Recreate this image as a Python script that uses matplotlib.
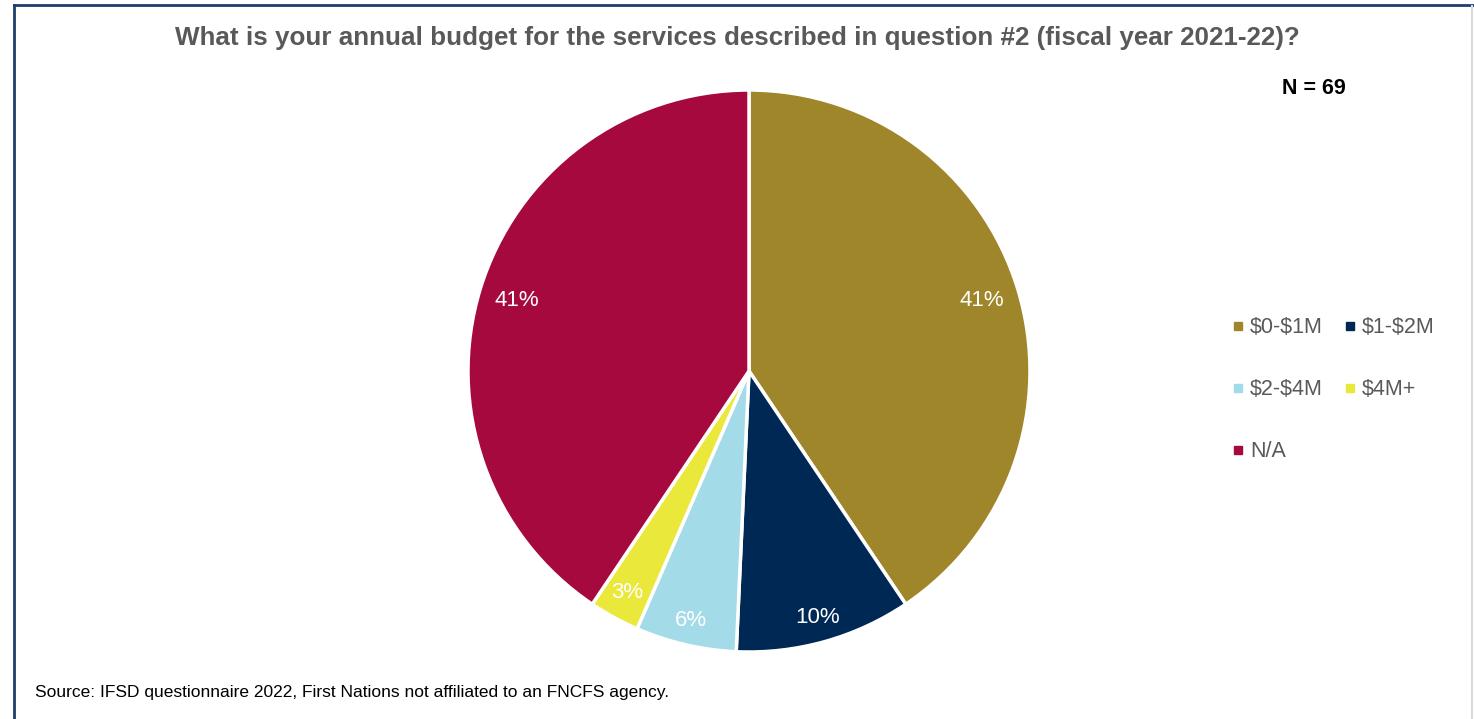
import matplotlib.pyplot as plt
from matplotlib.lines import Line2D
import numpy as np

plt.rcParams['font.family'] = ['Liberation Sans', 'DejaVu Sans']
plt.rcParams['text.parse_math'] = False

# responses per budget bracket (N = 69)
categories = ['$0-$1M', '$1-$2M', '$2-$4M', '$4M+', 'N/A']
counts = [28, 7, 4, 2, 28]
colors = ['#A0862A', '#002855', '#A4DBE8', '#EAE83A', '#A6093D']

title = 'What is your annual budget for the services described in question #2 (fiscal year 2021-22)?'
source = 'Source: IFSD questionnaire 2022, First Nations not affiliated to an FNCFS agency.'

fig = plt.figure(figsize=(14.74, 7.19), dpi=100)
fig.patch.set_facecolor('white')

# pie centred around x=749, y=371 px, radius ~281 px
ax = fig.add_axes([(749 - 290) / 1474, 1 - (371 + 290) / 719, 580 / 1474, 580 / 719])
wedges, texts, autotexts = ax.pie(
    counts, colors=colors, startangle=90, counterclock=False,
    radius=281 / 290, autopct=lambda p: f'{p:.0f}%', pctdistance=0.88,
    wedgeprops=dict(edgecolor='white', linewidth=2.5),
    textprops=dict(color='white', fontsize=16))
ax.set_xlim(-1, 1)
ax.set_ylim(-1, 1)
ax.set_aspect('equal')

# push the small-slice labels a little further out
label_dist = [0.865, 0.91, 0.91, 0.9, 0.865]
for t, d in zip(autotexts, label_dist):
    x, y = t.get_position()
    r = np.hypot(x, y)
    t.set_position((x / r * d * 281 / 290, y / r * d * 281 / 290))

fig.text(0.5, 1 - 38 / 719, title, ha='center', va='center',
         fontsize=18.7, fontweight='bold', color='#595959')
fig.text(1314 / 1474, 1 - 88 / 719, 'N = 69', ha='center', va='center',
         fontsize=15.5, fontweight='bold', color='black')
fig.text(35 / 1474, 1 - 692 / 719, source, ha='left', va='center',
         fontsize=12.5, color='black')

# legend reads row by row: reorder for matplotlib's column filling
order = [0, 2, 4, 1, 3]
handles = [Line2D([], [], marker='s', linestyle='none', markersize=6,
                  markerfacecolor=c, markeredgecolor=c) for c in colors]
fig.legend([handles[i] for i in order], [categories[i] for i in order],
           ncol=2, loc='upper left',
           bbox_to_anchor=(1213 / 1474, 1 - 298 / 719), frameon=False,
           fontsize=15.5, labelcolor='#595959', handlelength=0.5,
           handletextpad=0.32, columnspacing=1.0, labelspacing=1.9)

# frame around the chart
fig.add_artist(Line2D([14 / 1474, 14 / 1474], [0, 1 - 5 / 719],
                      transform=fig.transFigure, color='#1F3D6B', linewidth=2))
fig.add_artist(Line2D([14 / 1474, 1], [1 - 5 / 719, 1 - 5 / 719],
                      transform=fig.transFigure, color='#1F3D6B', linewidth=2))
fig.add_artist(Line2D([1472 / 1474, 1472 / 1474], [0, 1 - 6 / 719],
                      transform=fig.transFigure, color='#D9D9D9', linewidth=1.5))

fig.savefig('out.png', dpi=100)
